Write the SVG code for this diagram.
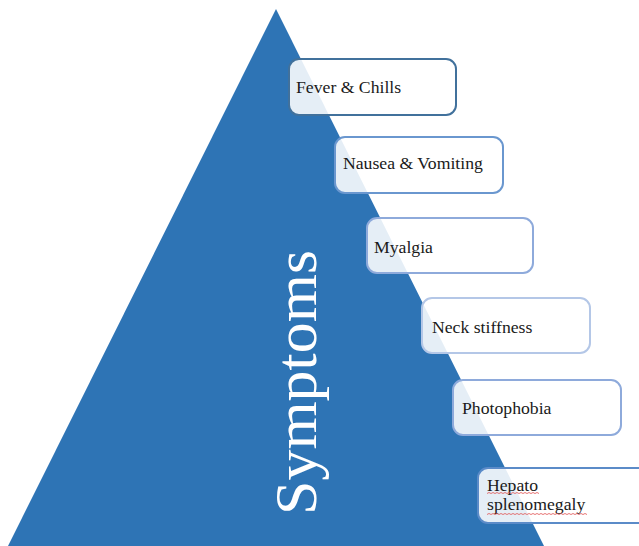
<svg xmlns="http://www.w3.org/2000/svg" width="639" height="546" viewBox="0 0 639 546">
<style>
.box{fill:#ffffff;fill-opacity:0.88;stroke-width:2}
.lbl{font-family:"Liberation Serif","Times New Roman",serif;font-size:17.7px;fill:#1a1a1a}
.squig{fill:none;stroke:#e05050;stroke-width:0.8}
</style>
<rect width="639" height="546" fill="#ffffff"/>
<g id="pyramid">
<polygon points="276,9 8,546 544,546" fill="#2E74B5"/>
<text transform="translate(316,515) rotate(-90)" font-family="'Liberation Serif','Times New Roman',serif" font-size="60" fill="#ffffff" textLength="265" lengthAdjust="spacingAndGlyphs">Symptoms</text>
</g>
<g id="connectors"></g>
<g id="n1"><rect class="box" x="289" y="59" width="167" height="56" rx="10" stroke="#41719C"/><text class="lbl" x="296" y="93">Fever &amp; Chills</text></g>
<g id="n2"><rect class="box" x="335" y="137" width="168" height="56" rx="10" stroke="#6A97CF"/><text class="lbl" x="343" y="169">Nausea &amp; Vomiting</text></g>
<g id="n3"><rect class="box" x="367" y="218" width="166" height="55" rx="10" stroke="#8EAADB"/><text class="lbl" x="374" y="253">Myalgia</text></g>
<g id="n4"><rect class="box" x="422" y="298" width="168" height="55" rx="10" stroke="#B4C7E7"/><text class="lbl" x="432" y="333">Neck stiffness</text></g>
<g id="n5"><rect class="box" x="453" y="380" width="168" height="55" rx="10" stroke="#8EAADB"/><text class="lbl" x="462" y="414">Photophobia</text></g>
<g id="n6"><rect class="box" x="478" y="468" width="172" height="55" rx="10" stroke="#5B8BC8"/><text class="lbl" x="487" y="491">Hepato</text><text class="lbl" x="487" y="510">splenomegaly</text>
<path class="squig" d="M487,493.5 l2,-1 l2,1 l2,-1 l2,1 l2,-1 l2,1 l2,-1 l2,1 l2,-1 l2,1 l2,-1 l2,1 l2,-1 l2,1 l2,-1 l2,1 l2,-1 l2,1 l2,-1 l2,1 l2,-1 l2,1 l2,-1 l2,1 l2,-1 l2,1"/>
<path class="squig" d="M487,514.5 l2,-1 l2,1 l2,-1 l2,1 l2,-1 l2,1 l2,-1 l2,1 l2,-1 l2,1 l2,-1 l2,1 l2,-1 l2,1 l2,-1 l2,1 l2,-1 l2,1 l2,-1 l2,1 l2,-1 l2,1 l2,-1 l2,1 l2,-1 l2,1 l2,-1 l2,1 l2,-1 l2,1 l2,-1 l2,1 l2,-1 l2,1 l2,-1 l2,1 l2,-1 l2,1 l2,-1 l2,1 l2,-1 l2,1 l2,-1 l2,1 l2,-1 l2,1 l2,-1 l2,1 l2,-1 l2,1"/>
</g>
</svg>
